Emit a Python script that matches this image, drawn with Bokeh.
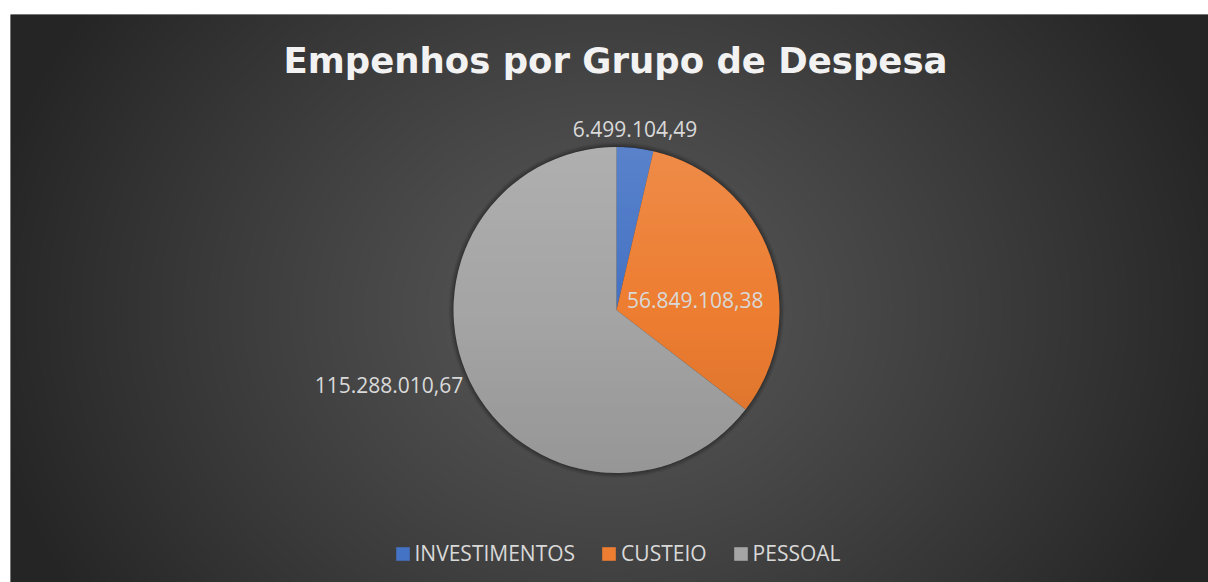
import numpy as np
from bokeh.plotting import figure
from bokeh.models import Range1d, Label, Legend, LegendItem
from bokeh.embed import file_html
from bokeh.resources import INLINE

# ---- data ----
categories = ["INVESTIMENTOS", "CUSTEIO", "PESSOAL"]
amounts = [6499104.49, 56849108.38, 115288010.67]
label_texts = ["6.499.104,49", "56.849.108,38", "115.288.010,67"]
colors = ["#4472C4", "#ED7D31", "#A5A5A5"]
title_text = "Empenhos por Grupo de Despesa"

# ---- layout (page pixel coordinates; data y = PAGE_H - page y) ----
PAGE_H = 582
W, H = 1208, 582
X0, X1 = 10, 1208
Y0, Y1 = 14, 582

p = figure(width=W, height=H,
           x_range=Range1d(X0, X1), y_range=Range1d(PAGE_H - Y1, PAGE_H - Y0),
           output_backend="svg", toolbar_location=None,
           x_axis_location=None, y_axis_location=None,
           min_border_left=X0, min_border_top=Y0, min_border_right=0, min_border_bottom=0,
           border_fill_color="white", background_fill_color="#2a2a2a",
           outline_line_color=None)
p.grid.visible = False


def rgba_image(gray_or_rgb, alpha):
    h, w = alpha.shape
    img = np.empty((h, w), dtype=np.uint32)
    v = img.view(dtype=np.uint8).reshape((h, w, 4))
    if gray_or_rgb.ndim == 2:
        for k in range(3):
            v[..., k] = gray_or_rgb
    else:
        v[..., :3] = gray_or_rgb
    v[..., 3] = alpha
    return img


# background radial gradient
bw, bh = X1 - X0, Y1 - Y0
xs = np.arange(bw) + X0 + 0.5
ys_page = PAGE_H - (np.arange(bh) + (PAGE_H - Y1) + 0.5)
XX, YY = np.meshgrid(xs, ys_page)
d = np.sqrt(((XX - 610) / 640.0) ** 2 + ((YY - 310) / 540.0) ** 2)
f = np.clip(d, 0, 1) ** 1.15
g = (88 - 51 * f).astype(np.uint8)
bg = rgba_image(g, np.full(g.shape, 255, dtype=np.uint8))
p.image_rgba(image=[bg], x=X0, y=PAGE_H - Y1, dw=bw, dh=bh)

# ---- pie ----
CX, CY_PAGE, R = 616, 309.5, 163
CY = PAGE_H - CY_PAGE

# soft shadow
for k, a in [(5, 0.05), (4, 0.06), (3, 0.07), (2, 0.08), (1, 0.10)]:
    p.circle(x=[CX], y=[CY], radius=R + k, fill_color="black", fill_alpha=a, line_color=None)

total = float(sum(amounts))
fracs = [a / total for a in amounts]
cum = np.concatenate([[0.0], np.cumsum(fracs)])
renderers = []
for i, cat in enumerate(categories):
    start = np.pi / 2 - 2 * np.pi * cum[i]
    end = np.pi / 2 - 2 * np.pi * cum[i + 1]
    r = p.wedge(x=[CX], y=[CY], radius=R, start_angle=start, end_angle=end,
                direction="clock", fill_color=colors[i], line_color=None)
    renderers.append(r)

# vertical shading overlay on the pie (lighter top, darker bottom)
n = 2 * R
px = np.arange(n) + 0.5 - R
py = np.arange(n) + 0.5 - R  # row 0 at bottom
PX, PY = np.meshgrid(px, py)
inside = (PX ** 2 + PY ** 2) <= (R - 0.3) ** 2
t = (PY + R) / (2.0 * R)  # 0 bottom -> 1 top
rgb = np.zeros((n, n, 3), dtype=np.uint8)
alpha = np.zeros((n, n), dtype=np.float64)
top = t >= 0.5
rgb[top] = 255
alpha[top] = (t[top] - 0.5) * 2 * 0.12 * 255
alpha[~top] = (0.5 - t[~top]) * 2 * 0.09 * 255
alpha[~inside] = 0
shade = rgba_image(rgb, alpha.astype(np.uint8))
p.image_rgba(image=[shade], x=CX - R, y=CY - R, dw=n, dh=n)

# ---- data labels ----
label_rf = [1.0, 0.5, 1.0]
label_off = [(0, -18.6), (2, 17), (-7, 3)]  # page-pixel offsets (dx, dY)
label_align = ["center", "center", "right"]
for i, txt in enumerate(label_texts):
    mid = 2 * np.pi * (cum[i] + cum[i + 1]) / 2.0
    lx = CX + label_rf[i] * R * np.sin(mid) + label_off[i][0]
    lY = CY_PAGE - label_rf[i] * R * np.cos(mid) + label_off[i][1]
    p.add_layout(Label(x=lx, y=PAGE_H - lY, text=txt, text_align=label_align[i],
                       text_baseline="alphabetic", text_font="Open Sans",
                       text_font_size="21px", text_color="#d9d9d9"))

# ---- title ----
p.add_layout(Label(x=615, y=PAGE_H - 60, text=title_text, text_align="center",
                   text_baseline="alphabetic", text_font="DejaVu Sans",
                   text_font_style="bold", text_font_size="35.5px", text_color="#f2f2f2"))

# ---- legend ----
legend = Legend(items=[LegendItem(label=c, renderers=[renderers[i]]) for i, c in enumerate(categories)],
                orientation="horizontal", location=(383.5, 15),
                glyph_width=17, glyph_height=17, label_standoff=4, spacing=25,
                padding=0, margin=0, background_fill_alpha=0, border_line_alpha=0,
                label_text_font="Open Sans", label_text_font_size="21px",
                label_text_color="#d9d9d9")
p.add_layout(legend)

open("out.html", "w").write(file_html(p, INLINE))
